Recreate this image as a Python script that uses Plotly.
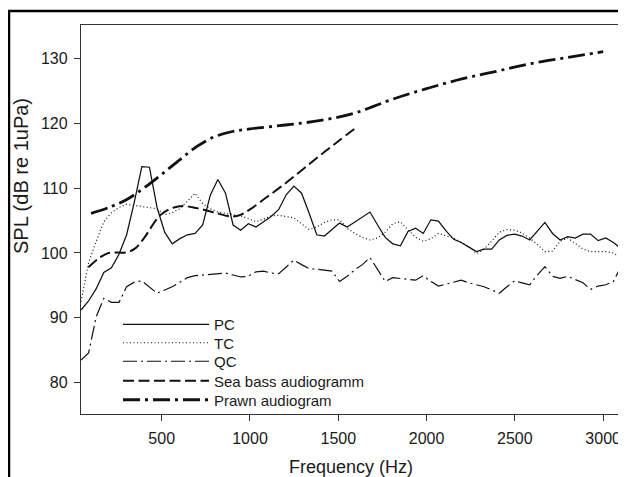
import plotly.graph_objects as go

# FFT bin frequencies (Hz), 44100/1024 spacing
bin_width = 44100 / 1024
freq = [bin_width * k for k in range(1, 73)]

pc = [91.2, 92.6, 94.5, 97.0, 97.7, 99.8, 102.8, 107.8, 113.3, 113.2,
      107.0, 103.2, 101.4, 102.2, 102.8, 103.0, 104.3, 108.9, 111.3, 109.2,
      104.3, 103.5, 104.5, 104.0, 104.8, 105.6, 106.7, 109.0, 110.3, 109.2,
      106.1, 102.8, 102.6, 103.6, 104.6, 104.0, 104.8, 105.6, 106.3, 104.3,
      102.4, 101.4, 101.1, 103.3, 103.8, 103.0, 105.1, 104.9, 103.4, 102.1,
      101.6, 100.9, 100.2, 100.6, 100.6, 102.0, 102.7, 102.9, 102.6, 102.0,
      103.4, 104.7, 103.0, 102.0, 102.5, 102.3, 102.9, 102.9, 101.9, 102.3,
      101.6, 100.7]

tc = [92.5, 98.5, 101.8, 104.8, 106.2, 107.0, 107.5, 107.3, 107.1, 107.0,
      106.8, 105.9, 106.2, 106.8, 108.0, 109.2, 107.6, 106.8, 106.3, 106.1,
      106.0, 105.7, 105.3, 104.8, 105.2, 105.7, 105.8, 105.6, 105.4, 104.5,
      103.6, 104.0, 104.7, 105.1, 105.1, 103.8, 103.0, 102.4, 102.0, 102.3,
      103.2, 104.5, 104.8, 103.6, 102.4, 101.8, 102.2, 103.0, 102.7, 102.3,
      101.6, 101.0, 99.9, 100.6, 101.8, 103.2, 103.6, 103.5, 103.1, 102.3,
      101.3, 100.2, 100.3, 101.8, 102.3, 101.5, 100.6, 100.2, 100.2, 100.2,
      100.0, 99.2]

qc = [83.5, 84.6, 90.2, 93.0, 92.4, 92.4, 94.8, 95.5, 95.7, 94.8,
      93.8, 94.3, 94.8, 95.5, 96.2, 96.5, 96.6, 96.8, 96.9, 96.9,
      96.6, 96.3, 96.4, 97.1, 97.2, 96.9, 96.8, 97.8, 98.9, 98.2,
      97.6, 97.5, 97.4, 97.2, 95.6, 96.4, 97.4, 98.2, 99.3, 97.4,
      95.6, 96.2, 96.1, 96.0, 95.8, 96.5, 95.6, 94.9, 95.2, 95.4,
      95.8, 95.4, 95.1, 94.8, 94.3, 93.8, 94.8, 95.7, 95.4, 95.1,
      96.6, 97.9, 96.4, 96.1, 96.4, 95.9, 95.4, 94.4, 94.9, 95.1,
      95.6, 97.9]

seabass_freq = [85, 150, 200, 300, 350, 400, 500, 600, 700, 800, 900, 950,
                1000, 1100, 1200, 1300, 1400, 1500, 1600]
seabass_spl = [97.8, 99.3, 100.0, 100.1, 100.7, 102.3, 106.0, 107.2, 106.9,
               106.2, 105.6, 105.9, 106.7, 108.7, 110.7, 112.9, 115.1, 117.2, 119.3]

prawn_freq = [100, 200, 300, 400, 500, 600, 700, 800, 900, 1000, 1200, 1400,
              1600, 1800, 2000, 2200, 2400, 2600, 2800, 3000]
prawn_spl = [106.1, 107.0, 108.2, 110.0, 112.1, 114.3, 116.4, 117.9, 118.7, 119.1,
             119.7, 120.4, 121.6, 123.6, 125.3, 126.8, 128.0, 129.2, 130.1, 131.0]

x_ticks = [500, 1000, 1500, 2000, 2500, 3000]
y_ticks = [80, 90, 100, 110, 120, 130]

FONT = "Liberation Sans, Arial, sans-serif"
INK = "#1a1a1a"

# page has an 8px body margin: figure is sized so the plot lands where the reference has it
W, H = 618, 469
L, R, T, B = 73, 5, 17, 63
pw, ph = W - L - R, H - T - B


def px_x(p):  # page pixel -> paper fraction
    return (p - 8 - L) / pw


def px_y(p):
    return (H - B - (p - 8)) / ph


fig = go.Figure()
fig.add_trace(go.Scatter(x=freq, y=pc, mode="lines", name="PC", legend="legend",
                         line=dict(color="#111", width=1.25, dash="solid")))
fig.add_trace(go.Scatter(x=freq, y=tc, mode="lines", name="TC", legend="legend2",
                         line=dict(color="#111", width=1.2, dash="1px,2.5px")))
fig.add_trace(go.Scatter(x=freq, y=qc, mode="lines", name="QC", legend="legend3",
                         line=dict(color="#111", width=1.2, dash="14px,4px,2px,4px")))
fig.add_trace(go.Scatter(x=seabass_freq, y=seabass_spl, mode="lines", name="Sea bass audiogramm",
                         legend="legend4",
                         line=dict(color="#111", width=2.0, dash="11px,4.5px", shape="spline")))
fig.add_trace(go.Scatter(x=prawn_freq, y=prawn_spl, mode="lines", name="Prawn audiogram",
                         legend="legend5",
                         line=dict(color="#111", width=2.8, dash="17px,5px,3px,5px", shape="spline")))

legend_rows = [323, 341.5, 360, 379.5, 398.5]


def leg(row):
    return dict(x=px_x(118), y=px_y(row - 15), xanchor="left", yanchor="top",
                bgcolor="rgba(0,0,0,0)", borderwidth=0, itemwidth=86,
                font=dict(family=FONT, size=15, color=INK))


fig.update_layout(
    width=W, height=H,
    margin=dict(l=L, r=R, t=T, b=B),
    paper_bgcolor="white", plot_bgcolor="white",
    font=dict(family=FONT, size=15, color=INK),
    showlegend=True,
    legend=leg(legend_rows[0]),
    legend2=leg(legend_rows[1]),
    legend3=leg(legend_rows[2]),
    legend4=leg(legend_rows[3]),
    legend5=leg(legend_rows[4]),
    xaxis=dict(range=[bin_width, 3101], tickvals=x_ticks, ticks="outside", ticklen=6,
               tickwidth=1.2, tickcolor="#333", showline=True, linecolor="#333",
               linewidth=1.3, mirror=True, showgrid=False, zeroline=False,
               ticklabelstandoff=4,
               tickfont=dict(family=FONT, size=16, color=INK)),
    yaxis=dict(range=[75.2, 135.1], tickvals=y_ticks, ticks="outside", ticklen=6,
               tickwidth=1.2, tickcolor="#333", showline=True, linecolor="#333",
               linewidth=1.3, mirror=True, showgrid=False, zeroline=False,
               ticklabelstandoff=3,
               tickfont=dict(family=FONT, size=16, color=INK)),
    annotations=[
        dict(text="Frequency (Hz)", xref="paper", yref="paper", x=px_x(351), y=px_y(467),
             xanchor="center", yanchor="middle", showarrow=False,
             font=dict(family=FONT, size=18, color=INK)),
        dict(text="SPL (dB re 1uPa)", xref="paper", yref="paper", x=px_x(21), y=px_y(176),
             xanchor="center", yanchor="middle", showarrow=False, textangle=-90,
             font=dict(family=FONT, size=20, color=INK)),
    ],
    shapes=[
        dict(type="line", xref="paper", yref="paper", x0=px_x(8), x1=px_x(640),
             y0=px_y(11), y1=px_y(11), line=dict(color="black", width=2.5)),
        dict(type="line", xref="paper", yref="paper", x0=px_x(9), x1=px_x(9),
             y0=px_y(11), y1=px_y(490), line=dict(color="black", width=2.5)),
    ],
)

fig.write_html("out.html")
